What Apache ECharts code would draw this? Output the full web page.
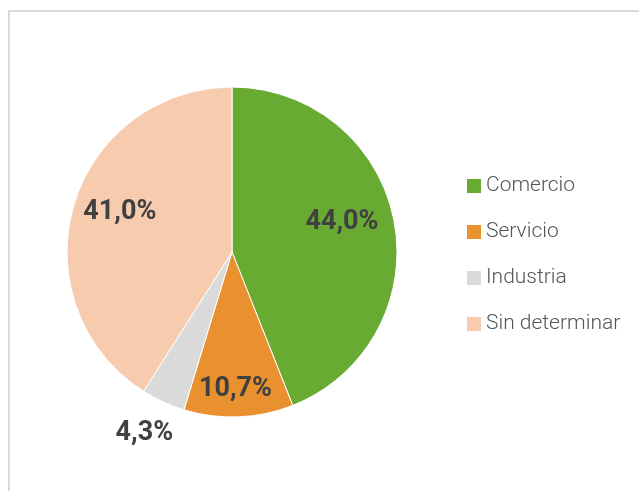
<!DOCTYPE html>
<html>
<head>
<meta charset="utf-8">
<script src="https://cdn.jsdelivr.net/npm/echarts@6/dist/echarts.min.js"></script>
<style>
  html, body { margin: 0; padding: 0; background: #fff; overflow: hidden; }
  #frame {
    position: absolute; left: 8px; top: 10px; width: 700px; height: 600px;
    border-left: 2px solid #dadada; border-top: 2px solid #dadada;
  }
  #chart { position: absolute; left: 0; top: 0; width: 639px; height: 491px; }
</style>
</head>
<body>
<div id="frame"></div>
<div id="chart"></div>
<script>
// data
const categories = ["Comercio", "Servicio", "Industria", "Sin determinar"];
const shares = [44.0, 10.7, 4.3, 41.0];
const colors = ["#69aa33", "#e8912e", "#dadada", "#f7cbad"];
// label nudges from the default inside spot
const labelOffsets = [[26, -14], [0, 52], [-52, 104], [-30, -16]];

function fmt(v) {
  return v.toFixed(1).replace(".", ",") + "%";
}

const chart = echarts.init(document.getElementById("chart"));
chart.setOption({
  animation: false,
  color: colors,
  legend: {
    orient: "vertical",
    left: 462,
    top: 170,
    itemWidth: 14,
    itemHeight: 14,
    itemGap: 24,
    icon: "rect",
    itemStyle: { borderWidth: 0 },
    textStyle: {
      fontFamily: "Roboto",
      fontWeight: 300,
      fontSize: 21,
      lineHeight: 22,
      color: "#555"
    },
    data: categories
  },
  series: [{
    type: "pie",
    center: [232, 252],
    radius: 165,
    startAngle: 90,
    clockwise: true,
    silent: true,
    itemStyle: { borderColor: "#fff", borderWidth: 1 },
    label: {
      show: true,
      position: "inside",
      fontFamily: "Roboto",
      fontWeight: "bold",
      fontSize: 27,
      color: "#404040",
      formatter: p => fmt(p.value)
    },
    labelLine: { show: false },
    data: categories.map((name, i) => ({
      name: name,
      value: shares[i],
      label: { offset: labelOffsets[i] }
    }))
  }]
});
</script>
</body>
</html>
